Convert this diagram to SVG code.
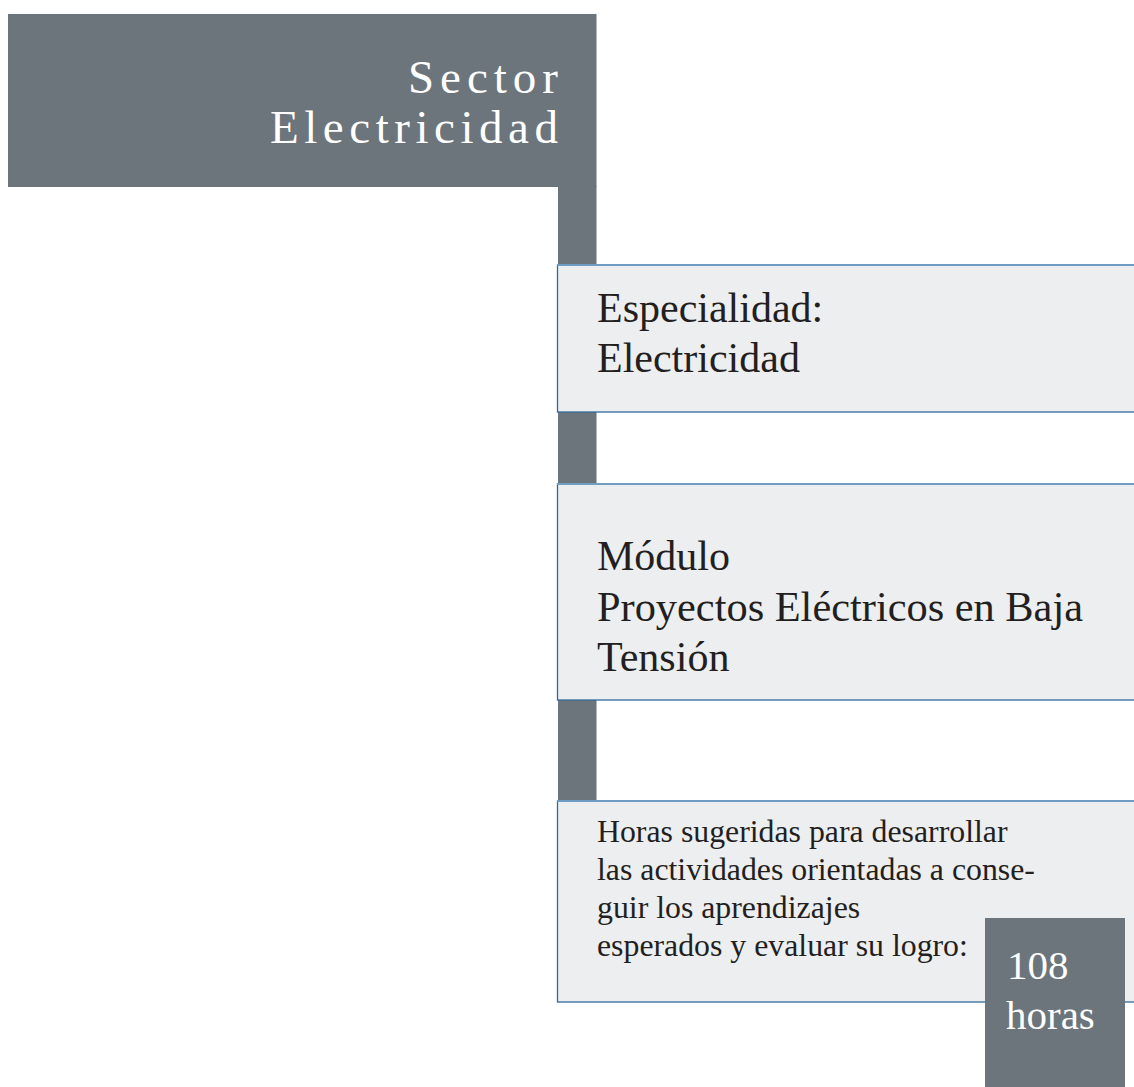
<svg xmlns="http://www.w3.org/2000/svg" width="1134" height="1087" viewBox="0 0 1134 1087">
<style>
.gray{fill:#6b757b}
.box{fill:#edeef0;stroke:#2f6a9c;stroke-width:1.3}
.topline{stroke:#6f9cc2;stroke-width:2}
.t{font-family:"Liberation Serif","Times New Roman",serif;fill:#231f20}
.w{font-family:"Liberation Serif","Times New Roman",serif;fill:#ffffff}
</style>
<rect width="1134" height="1087" fill="#ffffff"/>
<g id="connectors">
<rect class="gray" x="558" y="186" width="38.5" height="616"/>
</g>
<g id="sector">
<rect class="gray" x="8" y="14" width="588.5" height="173"/>
<text class="w" font-size="47"><tspan x="408" y="93" textLength="150" lengthAdjust="spacing">Sector</tspan><tspan x="270" y="143" textLength="288" lengthAdjust="spacing">Electricidad</tspan></text>
</g>
<g id="especialidad">
<rect class="box" x="557.5" y="265" width="580" height="147"/>
<line class="topline" x1="557" y1="265" x2="1134" y2="265"/>
<text class="t" font-size="42"><tspan x="597" y="322">Especialidad:</tspan><tspan x="597" y="372">Electricidad</tspan></text>
</g>
<g id="modulo">
<rect class="box" x="557.5" y="484" width="580" height="216"/>
<line class="topline" x1="557" y1="484" x2="1134" y2="484"/>
<text class="t" font-size="42"><tspan x="597" y="570">Módulo</tspan><tspan x="597" y="621" textLength="486" lengthAdjust="spacingAndGlyphs">Proyectos Eléctricos en Baja</tspan><tspan x="597" y="671">Tensión</tspan></text>
</g>
<g id="horas">
<rect class="box" x="557.5" y="801" width="580" height="201"/>
<line class="topline" x1="557" y1="801" x2="1134" y2="801"/>
<text class="t" font-size="31.8"><tspan x="597" y="842">Horas sugeridas para desarrollar</tspan><tspan x="597" y="880">las actividades orientadas a conse-</tspan><tspan x="597" y="918">guir los aprendizajes</tspan><tspan x="597" y="956">esperados y evaluar su logro:</tspan></text>
</g>
<g id="horas-total">
<rect class="gray" x="985" y="918" width="140" height="169"/>
<text class="w" font-size="41"><tspan x="1007" y="979">108</tspan><tspan x="1006" y="1029">horas</tspan></text>
</g>
</svg>
